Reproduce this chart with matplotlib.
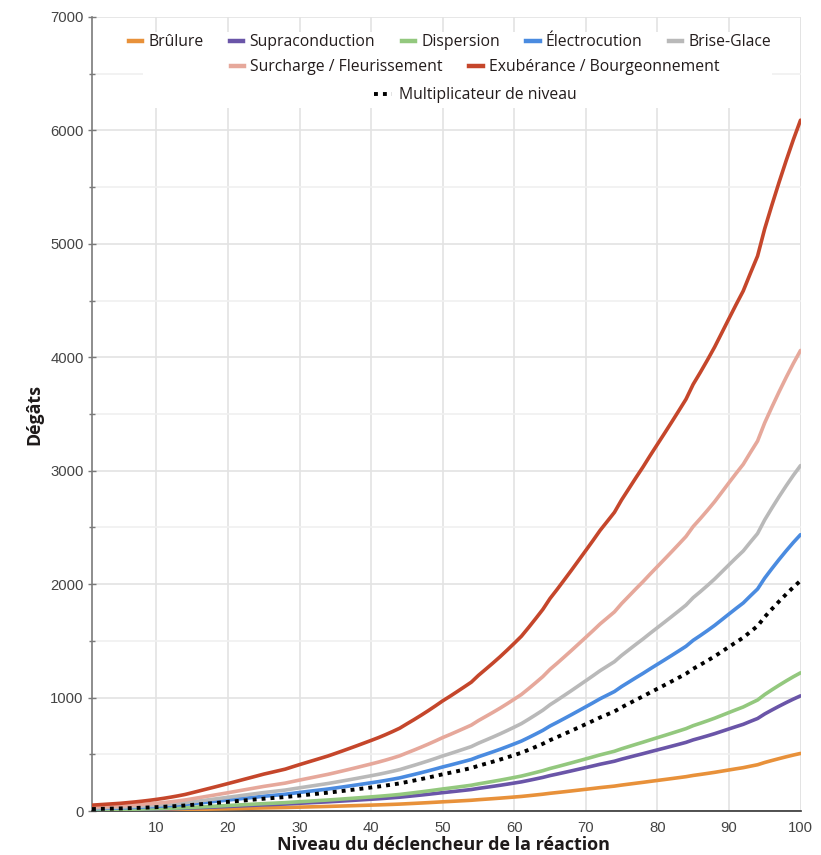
import matplotlib
matplotlib.use("Agg")
import matplotlib.pyplot as plt
from matplotlib.lines import Line2D
from matplotlib.patches import Rectangle
from matplotlib.ticker import MultipleLocator

levels = list(range(1, 101))
level_multiplier = [
    17.17, 18.54, 19.90, 21.27, 22.65, 24.65, 26.64, 28.87, 31.37, 34.14,
    37.20, 40.66, 44.45, 48.56, 53.75, 59.08, 64.42, 69.72, 75.12, 80.58,
    86.11, 91.70, 97.24, 102.81, 108.41, 113.20, 118.10, 122.98, 129.73, 136.29,
    142.67, 149.03, 155.42, 161.83, 169.11, 176.52, 184.07, 191.71, 199.56, 207.38,
    215.40, 224.17, 233.50, 243.35, 256.06, 268.54, 281.53, 295.01, 309.07, 323.60,
    336.76, 350.53, 364.48, 378.62, 398.60, 416.40, 434.39, 452.95, 472.61, 492.88,
    513.57, 539.10, 565.51, 592.54, 624.44, 651.47, 679.50, 707.79, 736.67, 765.64,
    794.77, 824.68, 851.16, 877.74, 914.23, 946.75, 979.41, 1011.22, 1044.79, 1077.44,
    1110.00, 1142.98, 1176.37, 1210.18, 1253.84, 1288.95, 1325.48, 1363.46, 1405.10, 1446.85,
    1488.22, 1528.44, 1580.37, 1630.85, 1711.20, 1780.45, 1847.32, 1911.47, 1972.86, 2030.07,
]

series_names = ["Brûlure", "Supraconduction", "Dispersion", "Électrocution",
                "Brise-Glace", "Surcharge / Fleurissement",
                "Exubérance / Bourgeonnement"]
reaction_factors = [0.25, 0.5, 0.6, 1.2, 1.5, 2.0, 3.0]
series_colors = ["#e8913a", "#6a55a8", "#93c87e", "#4a8be0",
                 "#b9b9b9", "#e6a89b", "#c5462b"]
multiplier_name = "Multiplicateur de niveau"

x_ticks = [10, 20, 30, 40, 50, 60, 70, 80, 90, 100]
y_ticks = [0, 1000, 2000, 3000, 4000, 5000, 6000, 7000]

W, H = 821, 855
fig = plt.figure(figsize=(W / 100, H / 100), dpi=100)
ax = fig.add_axes([92 / W, 1 - 811 / H, (800.5 - 92) / W, (811 - 17) / H])

for name, f, c in zip(series_names, reaction_factors, series_colors):
    ax.plot(levels, [v * f for v in level_multiplier], color=c, lw=2.6,
            solid_capstyle="round", zorder=3)
ax.plot(levels, level_multiplier, color="black", lw=2.8, ls=(0, (1, 1.3)),
        zorder=4)

ax.set_xlim(1, 100)
ax.set_ylim(0, 7000)
ax.set_xticks(x_ticks)
ax.set_yticks(y_ticks)
ax.yaxis.set_minor_locator(MultipleLocator(500))
ax.grid(True, which="major", color="#e3e3e3", lw=1.2, zorder=0)
ax.grid(True, which="minor", axis="y", color="#f0f0f0", lw=1.2, zorder=0)
ax.set_axisbelow(True)

for s in ["top", "right"]:
    ax.spines[s].set_visible(False)
ax.spines["left"].set_color("#7a7a7a")
ax.spines["left"].set_linewidth(1.2)
ax.spines["bottom"].set_color("#333333")
ax.spines["bottom"].set_linewidth(1.2)
ax.axvline(100, color="#e3e3e3", lw=1.2, zorder=0)

ax.tick_params(axis="y", which="both", direction="inout", length=6,
               color="#7a7a7a", width=1, labelcolor="#444444", pad=3)
ax.tick_params(axis="y", which="minor", length=5)
ax.tick_params(axis="x", length=0, labelcolor="#444444", pad=7)
for lab in ax.get_xticklabels() + ax.get_yticklabels():
    lab.set_fontfamily("Liberation Sans")
    lab.set_fontsize(10.7)

fig.text(443.5 / W, 1 - 850 / H, "Niveau du déclencheur de la réaction",
         family="Open Sans", fontweight="bold", fontsize=13,
         color="#1e1a1a", ha="center", va="baseline")
ax.set_ylabel("Dégâts", family="Open Sans", fontweight="bold",
              fontsize=12.8, color="#1e1a1a", labelpad=5)

# legend background
fig.patches.append(Rectangle((143 / W, 1 - 108 / H), (772 - 143) / W, 76 / H,
                             transform=fig.transFigure, facecolor="white",
                             edgecolor="none", zorder=2))

def make_handle(c, dotted=False):
    if dotted:
        return Line2D([], [], color="black", lw=2.8, ls=(0, (1, 1.3)))
    return Line2D([], [], color=c, lw=3.2)

rows = [
    (series_names[:5], series_colors[:5], 450, 42, False),
    (series_names[5:], series_colors[5:], 475, 67, False),
    ([multiplier_name], ["black"], 475, 95, True),
]
for names, cols, cx, cy, dotted in rows:
    handles = [make_handle(c, dotted) for c in cols]
    leg = fig.legend(handles, names, loc="center",
                     bbox_to_anchor=(cx / W, 1 - cy / H),
                     bbox_transform=fig.transFigure, ncol=len(names),
                     frameon=False, prop=dict(family="Open Sans", size=11.3),
                     handlelength=0.85 if not dotted else 1.2,
                     handletextpad=0.4, columnspacing=1.68,
                     borderaxespad=0, borderpad=0)
    leg.set_zorder(5)
    for t in leg.get_texts():
        t.set_color("#231c1c")

fig.savefig("out.png", dpi=100, facecolor="white")
